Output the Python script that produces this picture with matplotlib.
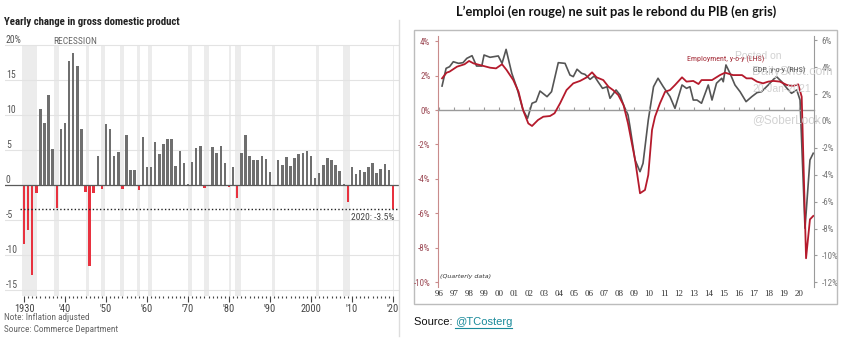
import matplotlib
matplotlib.use("Agg")
import matplotlib.pyplot as plt
from matplotlib import font_manager as fm
from matplotlib.lines import Line2D
from matplotlib.patches import Rectangle
import matplotlib.transforms as mtransforms

W, H = 846, 349


def pick_narrow():
    # the charts use a condensed face; take whatever condensed font is around
    for name in ['Liberation Sans Narrow', 'Arial Narrow', 'Roboto Condensed']:
        try:
            fm.findfont(fm.FontProperties(family=name), fallback_to_default=False)
            return {'family': name}, 1.0
        except ValueError:
            pass
    path = fm.findfont(fm.FontProperties(family='DejaVu Sans', stretch='condensed'))
    if 'Condensed' in path:
        return {'family': 'DejaVu Sans', 'stretch': 'condensed'}, 0.92
    return {'family': 'Liberation Sans'}, 0.86


NARROW, K = pick_narrow()

# ---- left panel: yearly real GDP change, %
years = list(range(1930, 2021))
gdp_growth = [
    -8.5, -6.4, -12.9, -1.2, 10.8, 8.9, 12.9, 5.1, -3.3, 8.0,
    8.8, 17.7, 18.9, 17.0, 8.0, -1.0, -11.6, -1.1, 4.1, -0.6,
    8.7, 8.0, 4.1, 4.7, -0.6, 7.1, 2.1, 2.1, -0.7, 6.9,
    2.6, 2.6, 6.1, 4.4, 5.8, 6.5, 6.6, 2.7, 4.9, 3.1,
    0.2, 3.3, 5.3, 5.6, -0.5, -0.2, 5.4, 4.6, 5.5, 3.2,
    -0.3, 2.5, -1.8, 4.6, 7.2, 4.2, 3.5, 3.5, 4.2, 3.7,
    1.9, -0.1, 3.5, 2.8, 4.0, 2.7, 3.8, 4.4, 4.5, 4.8,
    4.1, 1.0, 1.7, 2.9, 3.8, 3.5, 2.8, 2.0, 0.1, -2.5,
    2.6, 1.6, 2.2, 1.8, 2.5, 3.1, 1.7, 2.3, 3.0, 2.2,
    -3.5,
]
recessions = [(1929.6, 1933.2), (1937.4, 1938.5), (1945.1, 1945.8), (1948.9, 1949.8),
              (1953.5, 1954.4), (1957.6, 1958.3), (1960.3, 1961.2), (1969.9, 1970.9),
              (1973.9, 1975.2), (1980.0, 1980.5), (1981.5, 1982.9), (1990.5, 1991.2),
              (2001.2, 2001.9), (2007.9, 2009.5), (2020.1, 2020.3)]
left_yticks = [20, 15, 10, 5, 0, -5, -10, -15]
left_ylabels = ['20%', '15', '10', '5', '0', '-5', '-10', '-15']
decades = [1930, 1940, 1950, 1960, 1970, 1980, 1990, 2000, 2010, 2020]
decade_labels = ['1930', "'40", "'50", "'60", "'70", "'80", "'90", '2000', "'10", "'20"]

# ---- right panel: quarterly y-o-y
emp_t = [1996.2, 1996.5, 1996.7, 1997.2, 1997.7, 1998.0, 1998.3, 1998.7, 1999.4, 1999.8,
         2000.2, 2000.5, 2000.95, 2001.3, 2001.6, 2001.95, 2002.2, 2002.6, 2002.95, 2003.4,
         2003.7, 2004.07, 2004.5, 2004.95, 2005.4, 2005.85, 2006.2, 2006.5, 2006.95, 2007.3,
         2007.6, 2007.95, 2008.3, 2008.6, 2009.07, 2009.4, 2009.73, 2009.95, 2010.2, 2010.4,
         2010.73, 2011.07, 2011.4, 2011.73, 2012.2, 2012.5, 2012.95, 2013.3, 2013.5, 2014.2,
         2014.73, 2015.07, 2015.6, 2016.2, 2016.5, 2016.85, 2017.2, 2017.6, 2017.95, 2018.3,
         2018.73, 2019.2, 2019.6, 2019.95, 2020.18, 2020.47, 2020.73, 2020.95]
emp_yoy = [1.84, 2.17, 2.23, 2.52, 2.66, 2.85, 2.71, 2.62, 2.46, 2.42,
           2.66, 2.33, 1.74, 1.06, 0.0, -0.78, -0.93, -0.58, -0.39, -0.35,
           -0.19, 0.39, 1.16, 1.55, 1.69, 1.90, 2.19, 1.90, 1.74, 1.35,
           1.16, 0.87, 0.29, -0.78, -2.9, -4.84, -4.65, -3.78, -1.16, -0.39,
           0.39, 1.06, 1.16, 1.45, 1.90, 1.65, 1.69, 1.51, 1.74, 1.74,
           2.03, 2.17, 2.03, 2.03, 1.84, 1.84, 1.65, 1.55, 1.65, 1.69,
           1.65, 1.45, 1.40, 1.49, 0.77, -8.62, -6.36, -6.16]

gdp_t = [1996.2, 1996.47, 1996.7, 1996.95, 1997.3, 1997.6, 1997.85, 1998.2, 1998.5, 1998.85,
         1999.0, 1999.4, 1999.95, 2000.2, 2000.47, 2000.85, 2001.2, 2001.6, 2001.9, 2002.2,
         2002.47, 2002.73, 2003.2, 2003.5, 2003.95, 2004.4, 2004.73, 2004.95, 2005.2, 2005.5,
         2005.73, 2006.07, 2006.35, 2006.6, 2006.9, 2007.2, 2007.4, 2007.8, 2008.07, 2008.3,
         2008.6, 2008.73, 2009.07, 2009.4, 2009.6, 2009.95, 2010.3, 2010.6, 2010.95, 2011.4,
         2011.73, 2012.2, 2012.5, 2012.73, 2012.95, 2013.2, 2013.5, 2013.95, 2014.2, 2014.5,
         2014.85, 2014.95, 2015.13, 2015.4, 2015.73, 2016.07, 2016.47, 2016.85, 2017.2, 2017.5,
         2017.95, 2018.3, 2018.5, 2018.85, 2019.2, 2019.5, 2019.85, 2020.07, 2020.4, 2020.73,
         2020.95]
gdp_yoy = [2.6, 3.92, 4.04, 4.41, 4.29, 4.34, 4.66, 4.86, 4.09, 4.09,
           4.91, 4.74, 4.84, 4.29, 5.33, 3.55, 2.43, 0.82, 0.2, 1.32,
           1.44, 2.23, 1.81, 2.18, 4.34, 4.29, 3.42, 3.30, 3.85, 3.55,
           3.47, 3.1, 3.35, 2.92, 2.43, 2.55, 1.69, 2.31, 1.93, 1.19,
           0.45, -0.42, -2.9, -3.77, -3.15, 0.07, 2.55, 3.18, 2.55, 1.81,
           0.94, 2.68, 2.43, 2.55, 1.56, 1.56, 1.32, 2.68, 1.56, 2.81,
           3.18, 2.92, 4.17, 3.55, 2.68, 2.18, 1.44, 1.81, 2.11, 2.18,
           2.68, 3.1, 3.30, 2.92, 2.43, 2.06, 2.31, 1.56, -7.98, -2.9,
           -2.4]
year_ticks = list(range(1996, 2021))
year_labels = ['%02d' % (y % 100) for y in year_ticks]
emp_ticks = [4, 2, 0, -2, -4, -6, -8, -10]
gdp_ticks = [6, 4, 2, 0, -2, -4, -6, -8, -10, -12]


def rect(x0, y0, x1, y1):
    return [x0 / W, 1 - y1 / H, (x1 - x0) / W, (y1 - y0) / H]


fig = plt.figure(figsize=(W / 100, H / 100), dpi=100)

# ================= left chart =================
ax = fig.add_axes(rect(5, 43, 399, 296))
ppu = 7.0  # pixels per percentage point
ax.set_xlim(1930 - 19 / 4.1, 1930 + 375 / 4.1)
ax.set_ylim(-(296 - 185) / ppu, (185 - 43) / ppu)
ylo, yhi = ax.get_ylim()
for a, b in recessions:
    ax.axvspan(a, b, ymin=0, ymax=(20 - ylo) / (yhi - ylo), color='#ececec', lw=0, zorder=0)
for v in left_yticks:
    if v != 0:
        ax.axhline(v, color='#e3e3e3', lw=0.8, zorder=1)
colors = ['#6f6f6f' if v >= 0 else '#e8323f' for v in gdp_growth]
ax.bar(years, gdp_growth, width=0.6, color=colors, zorder=2)
ax.axhline(0, color='#5a5a5a', lw=0.9, zorder=3)
ax.hlines(gdp_growth[-1], 1929.0, 2021.2, colors='#222222', lw=1.0,
          linestyles=(0, (1, 1.6)), zorder=3)
ax.text(2020.4, gdp_growth[-1] - 0.5, '2020: -3.5%', ha='right', va='top',
        fontsize=6.8 * K, color='#444444', **NARROW)
ytr = mtransforms.blended_transform_factory(ax.transAxes, ax.transData)
for v, lab in zip(left_yticks, left_ylabels):
    ax.text(0.002, v - 0.05, lab, transform=ytr, ha='left', va='bottom',
            fontsize=7 * K, color='#555555', **NARROW)
ax.set_xticks(decades)
ax.set_xticklabels(decade_labels, fontsize=7.5 * K, color='#444444', **NARROW)
ax.set_xticks(years, minor=True)
ax.tick_params(axis='x', which='major', length=4, width=0.8, color='#444444', pad=2)
ax.tick_params(axis='x', which='minor', length=1.5, width=0.8, color='#444444')
ax.set_yticks([])
for s in ax.spines.values():
    s.set_visible(False)

fig.text(4 / W, 1 - 22 / H, 'Yearly change in gross domestic product', fontsize=7.8 * K,
         fontweight='bold', color='#222222', va='center', **NARROW)
fig.text(53 / W, 1 - 41 / H, 'RECESSION', fontsize=6.8 * K, color='#666666', va='center',
         **NARROW)
fig.text(4 / W, 1 - 318 / H, 'Note: Inflation adjusted', fontsize=6.7 * K, color='#666666',
         va='center', **NARROW)
fig.text(4 / W, 1 - 329 / H, 'Source: Commerce Department', fontsize=6.7 * K, color='#666666',
         va='center', **NARROW)
fig.add_artist(Line2D([399 / W, 399 / W], [1 - 20 / H, 1 - 336 / H], color='#dddddd', lw=1))

# ================= right chart =================
fig.add_artist(Rectangle((414 / W, 1 - 304 / H), (837 - 414) / W, (304 - 30) / H,
                         transform=fig.transFigure, fill=False, ec='#bcbcbc', lw=1))
fig.text(616 / W, 1 - 12 / H, 'L\u2019emploi (en rouge) ne suit pas le rebond du PIB (en gris)',
         fontsize=9.3, fontweight='bold', ha='center', va='center',
         family=['Lato', 'DejaVu Sans'], color='#111111')

axl = fig.add_axes(rect(438, 36, 814, 287))
axl.set_xlim(1995.93, 2021.0)
axl.set_ylim(-(287 - 110) / 17.2, (110 - 36) / 17.2)
axr = axl.twinx()
axr.set_ylim(-(287 - 121) / 13.44, (121 - 36) / 13.44)

axr.plot(gdp_t, gdp_yoy, color='#555555', lw=1.2, zorder=2)
axl.plot(emp_t, emp_yoy, color='#b51a2c', lw=1.3, zorder=3)
axl.set_zorder(axr.get_zorder() + 1)
axl.patch.set_visible(False)

for a in (axl, axr):
    a.spines['top'].set_visible(False)
axl.spines['right'].set_visible(False)
axr.spines['left'].set_visible(False)
axr.spines['bottom'].set_visible(False)
axl.spines['left'].set_color('#c98b8b')
axr.spines['right'].set_color('#9a9a9a')
axl.spines['bottom'].set_position(('data', 0))
axl.spines['bottom'].set_color('#9a9a9a')
axl.spines['bottom'].set_linewidth(1.0)

axl.set_yticks(emp_ticks)
axl.set_yticklabels(['%d%%' % v for v in emp_ticks], fontsize=6.5 * K, color='#9c4a55', **NARROW)
axl.tick_params(axis='y', length=2.5, color='#c98b8b', pad=3)
axr.set_yticks(gdp_ticks)
axr.set_yticklabels(['%d%%' % v for v in gdp_ticks], fontsize=6.5 * K, color='#777777', **NARROW)
axr.tick_params(axis='y', length=2.5, color='#9a9a9a', pad=3)

axl.set_xticks(year_ticks)
axl.set_xticklabels([])
axl.tick_params(axis='x', direction='in', length=2.5, color='#9a9a9a')
xtr = mtransforms.blended_transform_factory(axl.transData, fig.transFigure)
for y, lab in zip(year_ticks, year_labels):
    axl.text(y, 1 - 294 / H, lab, transform=xtr, ha='center', va='center', fontsize=6.5,
             color='#333333', family=['Liberation Serif', 'DejaVu Serif'])

axl.text(0.006, 0.035, '(Quarterly data)', transform=axl.transAxes, fontsize=4.5,
         style='italic', color='#333333')

# watermark (it sits on top of the legend text in the original too)
for x, y, s, fs in [(735, 56, 'Posted on', 7.5), (752, 72, 'DailyShot.com', 9),
                    (752, 89, '20-Jan-2021', 7.5), (752, 120, '@SoberLook', 8.5)]:
    fig.text(x / W, 1 - y / H, s, fontsize=fs, color='#d2d2d2', va='center',
             family=['Liberation Sans', 'DejaVu Sans'])
fig.text(726 / W, 1 - 59 / H, 'Employment, y-o-y (LHS)', fontsize=5.8 * K, color='#a32a36',
         ha='center', va='center', **NARROW)
fig.text(779 / W, 1 - 70 / H, 'GDP, y-o-y (RHS)', fontsize=5.8 * K, color='#555555',
         ha='center', va='center', **NARROW)

fig.text(414 / W, 1 - 322 / H, 'Source: ', fontsize=8, color='#111111', va='center',
         family=['Liberation Sans', 'DejaVu Sans'])
src = fig.text(455 / W, 1 - 322 / H, '@TCosterg', fontsize=8, color='#1a8a9a', va='center',
               family=['Liberation Sans', 'DejaVu Sans'])
fig.canvas.draw()
bb = src.get_window_extent()
fig.add_artist(Line2D([bb.x0 / W, bb.x1 / W], [(bb.y0 - 0.5) / H, (bb.y0 - 0.5) / H],
                      color='#1a8a9a', lw=0.8))

fig.savefig('out.png', dpi=100, facecolor='white')
